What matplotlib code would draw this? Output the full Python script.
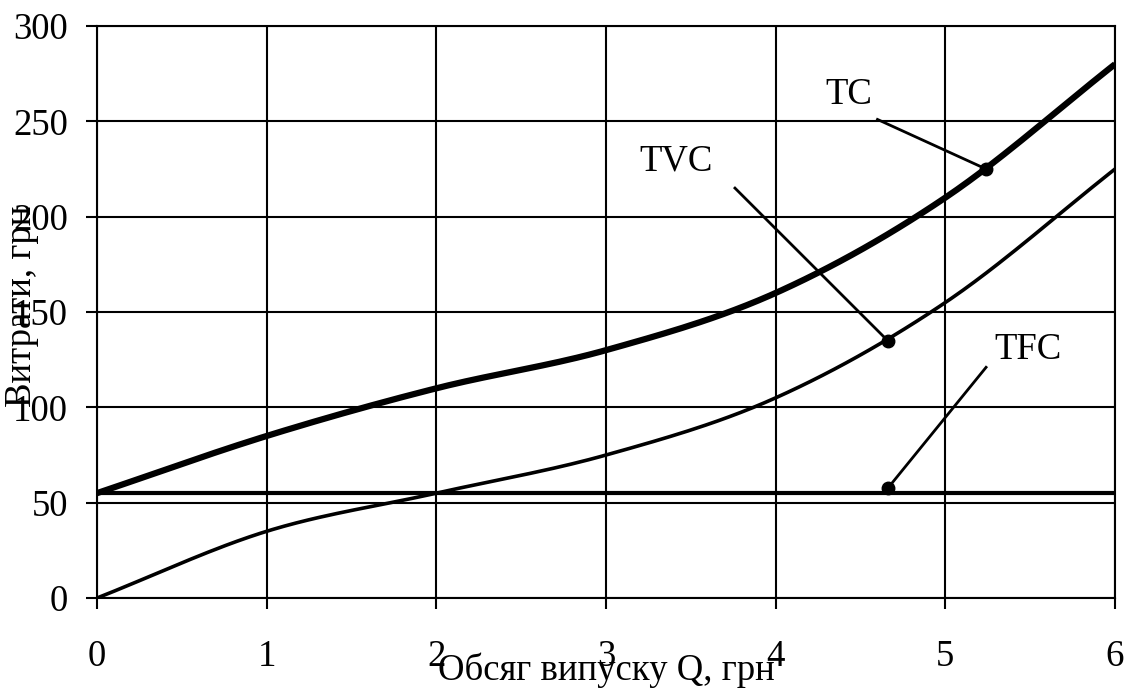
import numpy as np
import matplotlib.pyplot as plt

# data
q = [0, 1, 2, 3, 4, 5, 6]
tc = [55, 85, 110, 130, 160, 210, 280]
tvc = [0, 35, 55, 75, 105, 155, 225]
tfc = [55, 55, 55, 55, 55, 55, 55]

xticks = [0, 1, 2, 3, 4, 5, 6]
yticks = [0, 50, 100, 150, 200, 250, 300]


# smooth line through the points (like excel "smoothed line")
def smooth(x, y, n=30):
    x = np.asarray(x, float)
    y = np.asarray(y, float)
    px = np.concatenate([[2 * x[0] - x[1]], x, [2 * x[-1] - x[-2]]])
    py = np.concatenate([[2 * y[0] - y[1]], y, [2 * y[-1] - y[-2]]])
    xs, ys = [], []
    for i in range(1, len(px) - 2):
        t = np.linspace(0, 1, n)
        for p, out in ((px, xs), (py, ys)):
            p0, p1, p2, p3 = p[i - 1], p[i], p[i + 1], p[i + 2]
            out.extend(0.5 * (2 * p1 + (-p0 + p2) * t
                              + (2 * p0 - 5 * p1 + 4 * p2 - p3) * t ** 2
                              + (-p0 + 3 * p1 - 3 * p2 + p3) * t ** 3))
    return xs, ys


plt.rcParams['font.family'] = ['Liberation Serif', 'DejaVu Serif']

fig = plt.figure(figsize=(11.32, 6.92), dpi=100)
ax = fig.add_axes([0.0857, 0.1358, 0.8993, 0.8266])

ax.plot(*smooth(q, tc), color='black', lw=4.5, solid_capstyle='butt', zorder=3)
ax.plot(*smooth(q, tvc), color='black', lw=2.6, solid_capstyle='butt', zorder=3)
ax.plot(q, tfc, color='black', lw=3, solid_capstyle='butt', zorder=3)

ax.set_xlim(0, 6)
ax.set_ylim(0, 300)
ax.set_xticks(xticks)
ax.set_yticks(yticks)
ax.grid(True, color='black', lw=1.5)
for s in ax.spines.values():
    s.set_linewidth(1.5)
    s.set_color('black')
ax.tick_params(direction='out', length=8, width=1.5, labelsize=26.5, colors='black')
ax.tick_params(axis='x', pad=22)
ax.tick_params(axis='y', pad=13)

ax.set_xlabel('Обсяг випуску Q, грн', fontsize=26.5)
ax.xaxis.set_label_coords(0.5, -0.095)
ax.set_ylabel('Витрати, грн', fontsize=26.5)
ax.yaxis.set_label_coords(-0.057, 0.51)

# callouts
notes = [('TC', (5.24, 225), (4.60, 251), (4.43, 264)),
         ('TVC', (4.66, 135), (3.76, 215), (3.41, 229)),
         ('TFC', (4.66, 57.5), (5.24, 121), (5.49, 130))]
for label, dot, start, txt in notes:
    ax.plot([start[0], dot[0]], [start[1], dot[1]], color='black', lw=2, zorder=4)
    ax.plot(dot[0], dot[1], 'o', color='black', ms=9, zorder=5)
    ax.text(txt[0], txt[1], label, fontsize=26.5, ha='center', va='center', zorder=5)

plt.savefig('out.png')
